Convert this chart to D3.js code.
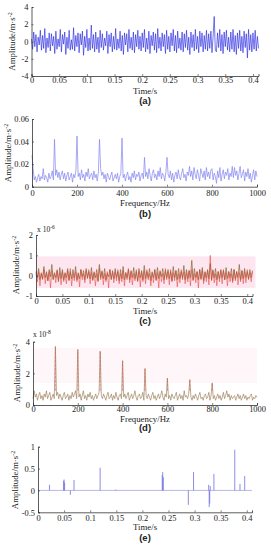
<!DOCTYPE html>
<html><head><meta charset="utf-8">
<script src="https://cdn.jsdelivr.net/npm/d3@7/dist/d3.min.js"></script>
<style>
body{margin:0;background:#fff;}
svg text{font-family:"Liberation Serif","DejaVu Serif",serif;fill:#222;}
</style></head><body>
<svg id="c" width="271" height="550"></svg>
<script>
// ---------- DATA ----------
// (a) raw vibration signal, step 0.002 s
const timeStepA = 0.002;
const sigA = [
0.3,-0.9,1.1,-0.6,0.8,-1.2,0.5,-0.4,1.3,-1.0,0.7,-0.8,1.5,-1.3,0.4,-0.7,1.0,-1.1,0.9,-0.5,
0.6,-1.4,1.2,-0.9,0.3,-0.6,1.4,-1.2,0.8,-0.3,1.1,-1.5,0.5,-0.8,1.3,-1.0,0.2,-0.9,1.6,-1.1,
0.7,-0.6,1.0,-1.3,0.9,-0.4,1.2,-1.6,0.6,-0.7,1.4,-1.1,0.4,-1.0,1.9,-0.8,0.8,-1.2,1.1,-0.9,
0.5,-1.3,1.3,-0.7,0.9,-1.0,0.4,-0.5,1.2,-1.4,0.8,-0.6,1.0,-1.2,0.6,-0.9,1.5,-1.0,0.3,-0.8,
1.2,-1.1,0.7,-1.5,1.0,-0.4,0.9,-1.2,1.4,-0.8,0.5,-1.0,1.1,-1.3,0.8,-0.6,1.3,-0.9,0.6,-1.1,
1.0,-0.7,1.4,-1.2,0.4,-0.9,1.2,-1.4,0.7,-0.5,1.1,-1.0,0.9,-1.3,1.5,-0.8,0.5,-1.1,1.0,-0.6,
0.8,-1.4,1.3,-0.9,0.6,-1.2,1.0,-0.5,1.4,-1.1,0.7,-1.3,1.2,-0.8,0.4,-1.0,1.1,-1.2,0.9,-0.7,
1.3,-1.0,0.5,-1.5,1.1,-0.7,0.8,-1.1,1.4,-0.9,0.6,-1.3,1.2,-0.6,1.0,-1.2,0.7,-0.9,1.3,-1.1,
0.9,-0.8,1.2,-1.3,0.6,2.9,-1.0,-1.2,1.0,-0.7,1.4,-1.1,0.8,-1.4,1.1,-0.6,1.3,-1.0,0.5,-1.2,
1.1,-0.9,1.4,-1.2,0.7,-1.5,1.0,-0.8,1.3,-1.1,0.6,-1.3,1.2,-0.7,0.9,-1.9,1.4,-1.0,0.8,-1.2,
1.0,-0.9,1.3,-1.1,0.6,-0.8];

// (b) spectrum of (a), step 5 Hz
const freqStep = 5;
const specB = [
0.028,0.016,0.006,0.009,0.004,0.008,0.011,0.005,0.009,0.007,0.016,0.006,0.010,0.008,0.004,0.012,0.007,0.009,0.014,0.006,
0.042,0.010,0.015,0.008,0.013,0.006,0.011,0.014,0.007,0.012,0.005,0.010,0.013,0.006,0.009,0.012,0.004,0.011,0.008,0.014,
0.045,0.009,0.012,0.006,0.015,0.008,0.011,0.005,0.013,0.009,0.016,0.007,0.010,0.012,0.006,0.014,0.008,0.011,0.005,0.013,
0.042,0.016,0.010,0.013,0.007,0.011,0.004,0.012,0.009,0.006,0.010,0.013,0.005,0.008,0.011,0.007,0.012,0.004,0.009,0.012,
0.043,0.008,0.011,0.005,0.010,0.013,0.006,0.009,0.004,0.012,0.008,0.014,0.006,0.011,0.009,0.013,0.005,0.010,0.012,0.007,
0.026,0.009,0.013,0.007,0.016,0.010,0.005,0.012,0.015,0.008,0.011,0.006,0.014,0.009,0.017,0.007,0.012,0.010,0.005,0.013,
0.026,0.011,0.008,0.014,0.006,0.012,0.004,0.010,0.013,0.007,0.015,0.009,0.006,0.012,0.016,0.008,0.011,0.005,0.013,0.010,
0.018,0.009,0.014,0.006,0.017,0.011,0.007,0.015,0.010,0.005,0.016,0.012,0.008,0.014,0.006,0.017,0.009,0.013,0.007,0.015,
0.016,0.006,0.012,0.009,0.003,0.014,0.008,0.017,0.005,0.011,0.015,0.007,0.013,0.010,0.016,0.006,0.012,0.009,0.018,0.008,
0.017,0.010,0.014,0.006,0.012,0.018,0.008,0.011,0.015,0.005,0.013,0.009,0.016,0.007,0.012,0.004,0.010,0.015,0.006,0.014,
0.009];

// (c) two components (x1e-6), step 0.0025 s
const timeStepC = 0.0025;
const sigCRed = [
0.1,-0.3,0.2,-0.5,0.15,-0.2,0.3,-0.4,0.1,-0.25,0.2,-0.6,0.25,-0.15,0.1,-0.35,0.3,-0.2,0.15,-0.45,
0.2,-0.3,0.1,-0.4,0.25,-0.2,0.35,-0.5,0.1,-0.25,0.2,-0.3,0.15,-0.55,0.3,-0.2,0.1,-0.35,0.25,-0.15,
0.3,-0.4,0.15,-0.25,0.2,-0.5,0.1,-0.3,0.35,-0.2,0.25,-0.45,0.1,-0.3,0.2,-0.6,0.3,-0.15,0.15,-0.35,
0.2,-0.25,0.3,-0.4,0.1,-0.3,0.25,-0.5,0.15,-0.2,0.35,-0.35,0.2,-0.45,0.1,-0.25,0.3,-0.3,0.2,-0.55,
0.15,-0.3,0.25,-0.4,0.3,-0.2,0.1,-0.5,0.2,-0.35,0.3,-0.25,0.15,-0.6,0.25,-0.3,0.1,-0.4,0.35,-0.2,
0.2,-0.45,0.3,-0.3,0.15,-0.25,0.25,-0.55,0.1,-0.35,0.3,-0.2,0.2,-0.4,0.15,-0.3,0.25,-0.5,0.3,-0.25,
0.1,-0.35,0.2,-0.6,0.3,-0.2,0.25,-0.4,0.15,-0.3,0.25,-0.45,1.0,-0.25,0.3,-0.35,0.1,-0.5,0.2,-0.3,
0.25,-0.4,0.3,-0.2,0.15,-0.5,0.2,-0.3,0.1,-0.35,0.3,-0.25,0.2,-0.45,0.15,-0.3,0.25,-0.4,0.2,-0.35,
0.3,-0.2,0.15,-0.3,0.2];
const sigCOlive = [
0.2,-0.1,0.35,-0.2,0.1,-0.15,0.45,-0.1,0.2,-0.25,0.3,-0.05,0.55,-0.2,0.15,-0.1,0.25,-0.3,0.4,-0.15,
0.3,-0.2,0.15,-0.1,0.35,-0.25,0.2,-0.15,0.3,-0.1,0.45,-0.2,0.1,-0.15,0.3,-0.05,0.25,-0.2,0.35,-0.1,
0.2,-0.15,0.4,-0.2,0.15,-0.1,0.3,-0.25,0.55,-0.1,0.2,-0.15,0.35,-0.2,0.1,-0.05,0.3,-0.2,0.25,-0.15,
0.35,-0.1,0.2,-0.25,0.3,-0.15,0.45,-0.2,0.15,-0.1,0.3,-0.2,0.25,-0.1,0.4,-0.15,0.2,-0.25,0.35,-0.1,
0.25,-0.2,0.5,-0.15,0.2,-0.1,0.35,-0.25,0.15,-0.1,0.3,-0.2,0.4,-0.15,0.2,-0.05,0.35,-0.2,0.25,-0.1,
0.3,-0.15,0.2,-0.25,0.45,-0.1,0.25,-0.2,0.35,-0.15,0.2,-0.1,0.5,-0.2,0.3,-0.15,0.25,-0.1,0.75,-0.2,
0.35,-0.1,0.2,-0.2,0.3,-0.15,0.4,-0.25,0.2,-0.1,0.3,-0.15,0.6,-0.2,0.25,-0.1,0.35,-0.2,0.2,-0.15,
0.3,-0.1,0.25,-0.2,0.4,-0.15,0.2,-0.1,0.35,-0.25,0.3,-0.15,0.2,-0.1,0.55,-0.2,0.25,-0.15,0.35,-0.1,
0.2,-0.15,0.3,-0.1,0.25];

// (d) spectrum of (c) (x1e-8), step 5 Hz
const specD = [
0.4,0.9,0.5,0.7,0.3,0.6,0.8,0.4,0.6,0.3,0.7,0.5,0.9,0.4,0.6,0.8,0.3,0.5,0.7,0.4,
3.7,0.6,0.8,0.4,0.7,0.5,0.3,0.6,0.8,0.4,0.5,0.7,0.3,0.6,0.4,0.8,0.5,0.7,0.9,0.4,
3.5,0.5,0.7,0.3,0.6,0.9,0.4,0.6,0.3,0.7,0.5,0.8,0.4,0.6,0.3,0.5,0.7,0.4,0.6,0.8,
3.4,0.6,0.4,0.7,0.5,0.3,0.6,0.8,0.4,0.5,0.7,0.3,0.6,0.4,0.8,0.5,0.3,0.6,0.7,0.4,
2.8,0.5,0.7,0.4,0.6,0.8,0.3,0.5,0.7,0.4,0.6,0.9,0.5,0.3,0.6,0.7,0.4,0.5,0.8,0.3,
2.3,0.6,0.4,0.7,0.5,0.3,0.6,0.8,0.4,0.6,0.3,0.5,0.7,0.4,0.6,0.9,0.5,0.3,0.7,0.5,
1.7,0.4,0.6,0.3,0.7,0.5,0.4,0.6,0.8,0.3,0.5,0.7,0.4,0.6,0.3,0.9,0.5,0.6,0.4,0.7,
1.6,0.5,0.3,0.6,0.4,0.7,0.5,0.3,0.6,0.8,0.4,0.5,0.3,0.6,0.7,0.4,0.5,0.8,0.3,0.6,
1.4,0.4,0.6,0.3,0.5,0.7,0.4,0.6,0.3,0.5,0.8,0.4,0.6,0.9,0.5,0.7,0.3,0.6,0.4,0.5,
0.6,0.3,0.5,0.7,0.4,0.6,0.3,0.5,0.7,0.4,0.6,0.3,0.5,0.4,0.6,0.7,0.3,0.5,0.4,0.6,
0.5];

// (e) sparse impulses
const impTimes  = [0.022,0.049,0.050,0.051,0.062,0.069,0.119,0.149,0.238,0.239,0.240,0.288,0.298,0.327,0.328,0.329,0.330,0.337,0.377,0.387,0.396];
const impValues = [0.13,0.22,0.25,0.18,-0.10,0.24,0.52,0.02,0.35,0.42,0.30,-0.33,0.42,0.13,-0.38,-0.30,0.10,0.38,0.93,0.15,0.33];

const timeTicks = [0,0.05,0.1,0.15,0.2,0.25,0.3,0.35,0.4];
const freqTicks = [0,200,400,600,800,1000];
const yTicksA = [-4,-2,0,2,4];
const yTicksB = [0,0.02,0.04,0.06];
const yTicksC = [-1,0,1,2];
const yTicksD = [0,2,4];
const yTicksE = [-0.5,0,0.5,1];
const panelLabels = ["(a)","(b)","(c)","(d)","(e)"];

// ---------- DRAW ----------
const svg = d3.select("#c");
const fs = 8.4;

function axes(g, x, y, xt, yt, xfmt, yfmt, xpad){
  const xa = d3.axisBottom(x).tickValues(xt).tickSize(-2).tickPadding(xpad===undefined?3:xpad).tickFormat(xfmt);
  const ya = d3.axisLeft(y).tickValues(yt).tickSize(-2).tickPadding(3).tickFormat(yfmt);
  const gx = g.append("g").attr("transform",`translate(0,${y.range()[0]})`).call(xa);
  const gy = g.append("g").attr("transform",`translate(${x.range()[0]},0)`).call(ya);
  [gx,gy].forEach(a=>{
    a.select(".domain").attr("stroke","#333").attr("stroke-width",0.8);
    a.selectAll(".tick line").attr("stroke","#333").attr("stroke-width",0.6);
    a.selectAll("text").style("font-family",'"Liberation Serif",serif').style("font-size",fs+"px").attr("fill","#222");
  });
}
function ylabel(cx, cy){
  const t = svg.append("text").attr("transform",`translate(${cx},${cy}) rotate(-90)`)
    .attr("text-anchor","middle").style("font-size","8.8px");
  t.append("tspan").text("Amplitude/m·s");
  t.append("tspan").attr("dy",-3).style("font-size","6px").text("-2");
}
function xlabel(cx, by, s){
  svg.append("text").attr("x",cx).attr("y",by).attr("text-anchor","middle").style("font-size","8.8px").text(s);
}
function plabel(cx, by, s){
  svg.append("text").attr("x",cx).attr("y",by).attr("text-anchor","middle")
    .style("font-family",'"Liberation Sans",Arial,sans-serif').style("font-weight","bold").style("font-size","9.5px").text(s);
}
function expo(x0, by, e){
  const t = svg.append("text").attr("x",x0).attr("y",by).style("font-size","7.5px");
  t.append("tspan").text("x 10");
  t.append("tspan").attr("dy",-3).style("font-size","5.5px").text(e);
}
const fmtT = d => d===0 ? "0" : String(+d.toFixed(2));

// (a)
{
  const x = d3.scaleLinear().domain([0,0.41]).range([31.5,258.5]);
  const y = d3.scaleLinear().domain([-4,4]).range([76,7]);
  const g = svg.append("g");
  const line = d3.line().x((d,i)=>x(i*timeStepA)).y(d=>y(d));
  g.append("path").datum(sigA).attr("d",line).attr("fill","none").attr("stroke","#2a2ae2").attr("stroke-width",0.65);
  axes(g,x,y,timeTicks,yTicksA,fmtT,d=>d,1.5);
  ylabel(15,41.5); xlabel(145,94,"Time/s"); plabel(145,103.5,panelLabels[0]);
}
// (b)
{
  const x = d3.scaleLinear().domain([0,1000]).range([32,257]);
  const y = d3.scaleLinear().domain([0,0.06]).range([186.7,119]);
  const g = svg.append("g");
  const line = d3.line().x((d,i)=>x(i*freqStep)).y(d=>y(d));
  g.append("path").datum(specB).attr("d",line).attr("fill","none").attr("stroke","#8484f0").attr("stroke-width",0.7);
  axes(g,x,y,freqTicks,yTicksB,d=>d,d=>d===0?"0":d.toFixed(2));
  ylabel(11,153); xlabel(145,206,"Frequency/Hz"); plabel(145,216.5,panelLabels[1]);
}
// (c)
{
  const x = d3.scaleLinear().domain([0,0.41]).range([36,252.5]);
  const y = d3.scaleLinear().domain([-1,2]).range([296,235]);
  const g = svg.append("g");
  g.append("rect").attr("x",x(0)).attr("y",y(0.95)).attr("width",x(0.41)-x(0)+3).attr("height",y(-0.6)-y(0.95)).attr("fill","#fde6f0");
  const line = d3.line().x((d,i)=>x(i*timeStepC)).y(d=>y(d));
  g.append("path").datum(sigCOlive).attr("d",line).attr("fill","none").attr("stroke","#7d6a32").attr("stroke-width",0.7);
  g.append("path").datum(sigCRed).attr("d",line).attr("fill","none").attr("stroke","#e23a2e").attr("stroke-width",0.6).attr("opacity",0.85);
  axes(g,x,y,timeTicks,yTicksC,fmtT,d=>d,2);
  expo(37,232,"-6");
  ylabel(19,265); xlabel(145,313.5,"Time/s"); plabel(145,324,panelLabels[2]);
}
// (d)
{
  const x = d3.scaleLinear().domain([0,1000]).range([33,257]);
  const y = d3.scaleLinear().domain([0,4]).range([405,341.7]);
  const g = svg.append("g");
  g.append("rect").attr("x",x(0)).attr("y",y(3.6)).attr("width",x(1000)-x(0)).attr("height",y(1.4)-y(3.6)).attr("fill","#fef6f8");
  const line = d3.line().x((d,i)=>x(i*freqStep)).y(d=>y(d));
  g.append("path").datum(specD).attr("d",line).attr("fill","none").attr("stroke","#a08462").attr("stroke-width",0.7);
  g.selectAll(".pk").data(specD.map((v,i)=>({f:i*freqStep,v})).filter(d=>d.v>1.2)).enter().append("line")
    .attr("x1",d=>x(d.f)).attr("x2",d=>x(d.f)).attr("y1",y(0.9)).attr("y2",d=>y(d.v))
    .attr("stroke","#e05a5a").attr("stroke-width",0.6).attr("stroke-dasharray","3,1");
  axes(g,x,y,freqTicks,yTicksD,d=>d,d=>d,1.5);
  expo(33,337,"-8");
  ylabel(20,373); xlabel(145,421.5,"Frequency/Hz"); plabel(145,431,panelLabels[3]);
}
// (e)
{
  const x = d3.scaleLinear().domain([0,0.41]).range([38,252]);
  const y = d3.scaleLinear().domain([-0.5,1]).range([512.3,446.7]);
  const g = svg.append("g");
  g.append("line").attr("x1",x(0)).attr("x2",x(0.41)).attr("y1",y(0)).attr("y2",y(0)).attr("stroke","#9a9ae0").attr("stroke-width",0.7);
  g.selectAll(".imp").data(impTimes.map((t,i)=>({t,v:impValues[i]}))).enter().append("line")
    .attr("x1",d=>x(d.t)).attr("x2",d=>x(d.t)).attr("y1",y(0)).attr("y2",d=>y(d.v))
    .attr("stroke","#7070e0").attr("stroke-width",0.8);
  axes(g,x,y,timeTicks,yTicksE,fmtT,d=>d);
  ylabel(18,480); xlabel(145,530,"Time/s"); plabel(145,541,panelLabels[4]);
}
</script></body></html>
